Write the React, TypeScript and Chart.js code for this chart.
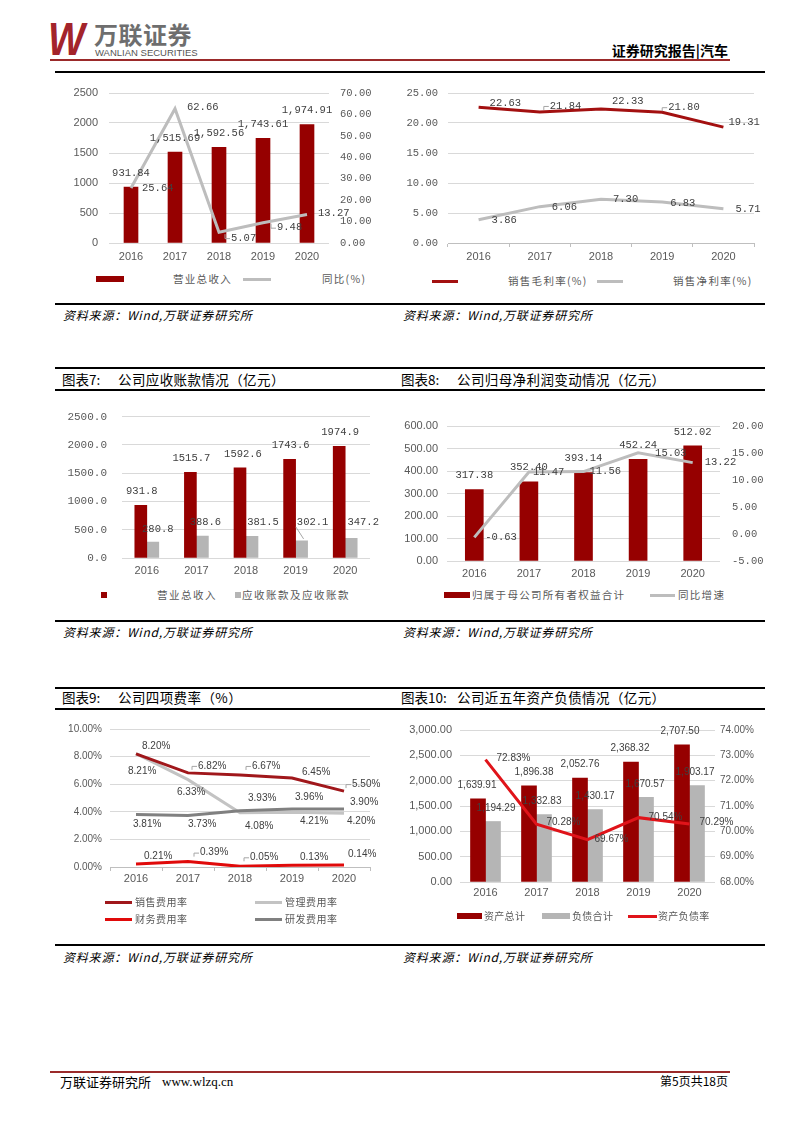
import React, { useEffect, useRef } from "react";
import { Chart, registerables } from "chart.js";

Chart.register(...registerables);

// ---------------- data ----------------
const years = ["2016", "2017", "2018", "2019", "2020"];

// Chart: 营业总收入 / 同比
const c1Names = ["营业总收入", "同比(%)"];
const c1Revenue = [931.84, 1515.69, 1592.56, 1743.61, 1974.91];
const c1YoY = [25.64, 62.66, 5.07, 9.48, 13.27];
const c1LeftTicks = [0, 500, 1000, 1500, 2000, 2500];
const c1RightTicks = [0, 10, 20, 30, 40, 50, 60, 70];

// Chart: 销售毛利率 / 销售净利率
const c2Names = ["销售毛利率(%)", "销售净利率(%)"];
const c2Gross = [22.63, 21.84, 22.33, 21.8, 19.31];
const c2Net = [3.86, 6.06, 7.3, 6.83, 5.71];
const c2Ticks = [0, 5, 10, 15, 20, 25];

// 图表7
const c7Names = ["营业总收入", "应收账款及应收账款"];
const c7Revenue = [931.8, 1515.7, 1592.6, 1743.6, 1974.9];
const c7Receivables = [280.8, 388.6, 381.5, 302.1, 347.2];
const c7Ticks = [0, 500, 1000, 1500, 2000, 2500];

// 图表8
const c8Names = ["归属于母公司所有者权益合计", "同比增速"];
const c8Equity = [317.38, 352.4, 393.14, 452.24, 512.02];
const c8YoY = [-0.63, 11.47, 11.56, 15.03, 13.22];
const c8LeftTicks = [0, 100, 200, 300, 400, 500, 600];
const c8RightTicks = [-5, 0, 5, 10, 15, 20];

// 图表9
const c9Names = ["销售费用率", "管理费用率", "财务费用率", "研发费用率"];
const c9Selling = [8.2, 6.82, 6.67, 6.45, 5.5];
const c9Admin = [8.21, 6.33, 3.93, 3.96, 3.9];
const c9Finance = [0.21, 0.39, 0.05, 0.13, 0.14];
const c9RD = [3.81, 3.73, 4.08, 4.21, 4.2];
const c9Ticks = [0, 2, 4, 6, 8, 10];

// 图表10
const c10Names = ["资产总计", "负债合计", "资产负债率"];
const c10Assets = [1639.91, 1896.38, 2052.76, 2368.32, 2707.5];
const c10Liab = [1194.29, 1332.83, 1430.17, 1670.57, 1903.17];
const c10Ratio = [72.83, 70.28, 69.67, 70.54, 70.29];
const c10LeftTicks = [0, 500, 1000, 1500, 2000, 2500, 3000];
const c10RightTicks = [68, 69, 70, 71, 72, 73, 74];

// ---------------- styles ----------------
const DARK_RED = "#960000";
const GRAY_BAR = "#B5B5B5";
const GRAY_LINE = "#BDBDBD";
const RED2 = "#A31010";
const C9_SELL = "#A0171B";
const C9_ADMIN = "#C3C3C3";
const C9_FIN = "#E00A0A";
const C9_RD = "#808080";
const C10_LINE = "#E0141A";
const TICK_COLOR = "#595959";
const LABEL_COLOR = "#404040";
const SANS = "'Liberation Sans', Arial, sans-serif";
const MONO = "'Liberation Mono', monospace";
const CJK = "'Noto Sans CJK SC', sans-serif";

const f2 = (v: number) => v.toFixed(2);
const f1 = (v: number) => v.toFixed(1);
const f0 = (v: number) => String(Math.round(v));
const fc2 = (v: number) =>
  v.toLocaleString("en-US", { minimumFractionDigits: 2, maximumFractionDigits: 2 });
const fp2 = (v: number) => v.toFixed(2) + "%";

type Off = [number, number][];
interface LabelSpec {
  ds: number;
  fmt: (v: number) => string;
  off: Off;
  align?: "center" | "left";
  leaders?: number[];
  diag?: number[];
}

function makeLabelPlugin(specs: LabelSpec[], font: string) {
  return {
    id: "valueLabels",
    afterDatasetsDraw(chart: any) {
      const ctx = chart.ctx as CanvasRenderingContext2D;
      ctx.save();
      ctx.font = font;
      ctx.textBaseline = "middle";
      for (const s of specs) {
        const meta = chart.getDatasetMeta(s.ds);
        const values = chart.data.datasets[s.ds].data as number[];
        meta.data.forEach((el: any, i: number) => {
          const [dx, dy] = s.off[i] || [0, 0];
          const text = s.fmt(values[i]);
          const x = el.x + dx;
          const y = el.y + dy;
          const left = s.align === "left";
          ctx.textAlign = left ? "left" : "center";
          ctx.fillStyle = LABEL_COLOR;
          ctx.fillText(text, x, y);
          const lx = left ? x : x - ctx.measureText(text).width / 2;
          ctx.strokeStyle = "#A6A6A6";
          ctx.lineWidth = 1;
          if (s.leaders && s.leaders.includes(i)) {
            ctx.beginPath();
            ctx.moveTo(lx - 1, y + 0.5);
            ctx.lineTo(lx - 6, y + 0.5);
            ctx.lineTo(lx - 6, y + (el.y > y ? 4 : -4));
            ctx.stroke();
          }
          if (s.diag && s.diag.includes(i)) {
            ctx.beginPath();
            ctx.moveTo(el.x + 2, el.y - 2);
            ctx.lineTo(lx - 1, y + 5);
            ctx.stroke();
          }
        });
      }
      ctx.restore();
    },
  };
}

function yScale(
  ticks: number[],
  o: { position: "left" | "right"; width: number; pad: number; fmt: (v: number) => string; font: any; grid?: boolean }
) {
  return {
    type: "linear",
    position: o.position,
    min: ticks[0],
    max: ticks[ticks.length - 1],
    afterBuildTicks: (s: any) => {
      s.ticks = ticks.map((v) => ({ value: v }));
    },
    ticks: {
      callback: (v: any) => o.fmt(Number(v)),
      padding: o.pad,
      font: o.font,
      color: TICK_COLOR,
    },
    grid: o.grid
      ? { color: "#D9D9D9", drawTicks: false, lineWidth: 1 }
      : { display: false, drawTicks: false },
    border: { display: false },
    afterFit: (s: any) => {
      s.width = o.width;
    },
  };
}

function xScale(o: { height: number; pad: number; marks: boolean; font: any }) {
  return {
    type: "category",
    offset: true,
    grid: o.marks
      ? { display: true, drawOnChartArea: false, drawTicks: true, tickLength: 4, offset: true, color: "#BFBFBF" }
      : { display: false, drawTicks: false },
    border: { display: o.marks, color: "#BFBFBF" },
    ticks: { padding: o.pad, font: o.font, color: TICK_COLOR, maxRotation: 0, autoSkip: false },
    afterFit: (s: any) => {
      s.height = o.height;
    },
  };
}

function baseOptions(padding: any, scales: any) {
  return {
    responsive: false,
    animation: false,
    devicePixelRatio: 1,
    events: [],
    layout: { padding },
    plugins: { legend: { display: false }, tooltip: { enabled: false } },
    scales,
  };
}

const yearFont = { family: SANS, size: 11 };

// ---------------- chart configs ----------------
function cfg1(): any {
  return {
    type: "bar",
    data: {
      labels: years,
      datasets: [
        { type: "line", label: c1Names[1], data: c1YoY, yAxisID: "y1", borderColor: GRAY_LINE, borderWidth: 3, pointRadius: 0, tension: 0, order: 0 },
        { type: "bar", label: c1Names[0], data: c1Revenue, yAxisID: "y", backgroundColor: DARK_RED, barThickness: 14, order: 1 },
      ],
    },
    options: baseOptions(
      { top: 18, left: 0, right: 0, bottom: 0 },
      {
        x: xScale({ height: 27, pad: 7, marks: false, font: yearFont }),
        y: yScale(c1LeftTicks, { position: "left", width: 54, pad: 11, fmt: f0, font: { family: SANS, size: 11 }, grid: true }),
        y1: yScale(c1RightTicks, { position: "right", width: 66, pad: 11, fmt: f2, font: { family: MONO, size: 10.5 } }),
      }
    ),
    plugins: [
      makeLabelPlugin(
        [
          { ds: 1, fmt: fc2, off: [[0, -14], [0, -14], [0, -14], [0, -14], [0, -14]] },
          { ds: 0, fmt: f2, align: "left", off: [[11, 0], [12, -2], [12, 6], [14, 5], [11, -1]], leaders: [2, 3] },
        ],
        `10.5px ${MONO}`
      ),
    ],
  };
}

function cfg2(): any {
  return {
    type: "line",
    data: {
      labels: years,
      datasets: [
        { label: c2Names[0], data: c2Gross, borderColor: RED2, borderWidth: 3, pointRadius: 0, tension: 0 },
        { label: c2Names[1], data: c2Net, borderColor: GRAY_LINE, borderWidth: 3, pointRadius: 0, tension: 0 },
      ],
    },
    options: baseOptions(
      { top: 18, left: 0, right: 21, bottom: 0 },
      {
        x: xScale({ height: 27, pad: 3, marks: true, font: yearFont }),
        y: yScale(c2Ticks, { position: "left", width: 53, pad: 10, fmt: f2, font: { family: MONO, size: 10.5 }, grid: true }),
      }
    ),
    plugins: [
      makeLabelPlugin(
        [
          { ds: 0, fmt: f2, align: "left", off: [[11, -4], [10, -6], [11, -8], [6, -5], [5, -5]], leaders: [1, 3] },
          { ds: 1, fmt: f2, align: "left", off: [[13, 0], [12, 1], [12, 0], [8, 1], [12, 0]] },
        ],
        `10.5px ${MONO}`
      ),
    ],
  };
}

function cfg7(): any {
  return {
    type: "bar",
    data: {
      labels: years,
      datasets: [
        { label: c7Names[0], data: c7Revenue, backgroundColor: DARK_RED, barThickness: 12 },
        { label: c7Names[1], data: c7Receivables, backgroundColor: GRAY_BAR, barThickness: 12 },
      ],
    },
    options: baseOptions(
      { top: 19, left: 0, right: 25, bottom: 0 },
      {
        x: xScale({ height: 22, pad: 6, marks: false, font: yearFont }),
        y: yScale(c7Ticks, { position: "left", width: 67, pad: 15, fmt: f1, font: { family: MONO, size: 11 }, grid: true }),
      }
    ),
    plugins: [
      makeLabelPlugin(
        [
          { ds: 0, fmt: f1, off: [[1, -14], [1, -14], [3, -14], [1, -14], [1, -14]] },
          { ds: 1, fmt: f1, off: [[5, -13], [3, -14], [11, -14], [11, -19], [12, -16]], diag: [3] },
        ],
        `10.5px ${MONO}`
      ),
    ],
  };
}

function cfg8(): any {
  return {
    type: "bar",
    data: {
      labels: years,
      datasets: [
        { type: "line", label: c8Names[1], data: c8YoY, yAxisID: "y1", borderColor: GRAY_LINE, borderWidth: 3, pointRadius: 0, tension: 0, order: 0 },
        { type: "bar", label: c8Names[0], data: c8Equity, yAxisID: "y", backgroundColor: DARK_RED, barThickness: 18, order: 1 },
      ],
    },
    options: baseOptions(
      { top: 26, left: 0, right: 0, bottom: 0 },
      {
        x: xScale({ height: 24, pad: 6, marks: false, font: yearFont }),
        y: yScale(c8LeftTicks, { position: "left", width: 52, pad: 9, fmt: f2, font: { family: SANS, size: 11 }, grid: true }),
        y1: yScale(c8RightTicks, { position: "right", width: 55, pad: 12, fmt: f2, font: { family: MONO, size: 10.5 } }),
      }
    ),
    plugins: [
      makeLabelPlugin(
        [
          { ds: 1, fmt: f2, off: [[0, -14], [0, -14], [0, -14], [0, -14], [0, -14]] },
          { ds: 0, fmt: f2, align: "left", off: [[11, 0], [4, 0], [6, 0], [17, 0], [12, 0]] },
        ],
        `10.5px ${MONO}`
      ),
    ],
  };
}

function cfg9(): any {
  const line = (label: string, data: number[], color: string, order: number) => ({
    label, data, borderColor: color, borderWidth: 3, pointRadius: 0, tension: 0, order,
  });
  return {
    type: "line",
    data: {
      labels: years,
      datasets: [
        line(c9Names[0], c9Selling, C9_SELL, 0),
        line(c9Names[1], c9Admin, C9_ADMIN, 3),
        line(c9Names[2], c9Finance, C9_FIN, 1),
        line(c9Names[3], c9RD, C9_RD, 2),
      ],
    },
    options: baseOptions(
      { top: 13, left: 0, right: 25, bottom: 0 },
      {
        x: xScale({ height: 23, pad: 1, marks: true, font: yearFont }),
        y: yScale(c9Ticks, { position: "left", width: 55, pad: 8, fmt: fp2, font: { family: SANS, size: 10 }, grid: true }),
      }
    ),
    plugins: [
      makeLabelPlugin(
        [
          { ds: 0, fmt: fp2, align: "left", off: [[6, -8], [10, -7], [12, -9], [10, -6], [8, -7]], leaders: [1, 2, 4] },
          { ds: 1, fmt: fp2, align: "left", off: [[-8, 18], [-11, 13], [8, -15], [3, -15], [6, -11]] },
          { ds: 2, fmt: fp2, align: "left", off: [[8, -8], [12, -9], [10, -9], [8, -8], [4, -11]], leaders: [1, 2] },
          { ds: 3, fmt: fp2, align: "left", off: [[-3, 10], [0, 9], [5, 16], [8, 12], [3, 12]] },
        ],
        `10px ${SANS}`
      ),
    ],
  };
}

function cfg10(): any {
  return {
    type: "bar",
    data: {
      labels: years,
      datasets: [
        { type: "line", label: c10Names[2], data: c10Ratio, yAxisID: "y1", borderColor: C10_LINE, borderWidth: 3, pointRadius: 0, tension: 0, order: 0 },
        { type: "bar", label: c10Names[0], data: c10Assets, yAxisID: "y", backgroundColor: DARK_RED, barThickness: 15, order: 1 },
        { type: "bar", label: c10Names[1], data: c10Liab, yAxisID: "y", backgroundColor: GRAY_BAR, barThickness: 15, order: 1 },
      ],
    },
    options: baseOptions(
      { top: 15, left: 0, right: 0, bottom: 0 },
      {
        x: xScale({ height: 23, pad: 4, marks: false, font: yearFont }),
        y: yScale(c10LeftTicks, { position: "left", width: 65, pad: 8, fmt: fc2, font: { family: SANS, size: 11 }, grid: true }),
        y1: yScale(c10RightTicks, { position: "right", width: 60, pad: 5, fmt: fp2, font: { family: SANS, size: 10 } }),
      }
    ),
    plugins: [
      makeLabelPlugin(
        [
          { ds: 1, fmt: fc2, off: [[-1, -14], [5, -14], [0, -14], [-1, -14], [-2, -14]] },
          { ds: 2, fmt: fc2, off: [[3, -13], [-2, -13], [0, -13], [-1, -13], [-2, -13]] },
          { ds: 0, fmt: fp2, align: "left", off: [[11, -1], [10, -2], [7, 0], [10, 0], [10, -2]] },
        ],
        `10px ${SANS}`
      ),
    ],
  };
}

// ---------------- components ----------------
function ChartBox(props: { left: number; top: number; width: number; height: number; make: () => any }) {
  const ref = useRef<HTMLCanvasElement>(null);
  useEffect(() => {
    const chart = new Chart(ref.current as HTMLCanvasElement, props.make());
    return () => chart.destroy();
  }, []);
  return (
    <div style={{ position: "absolute", left: props.left, top: props.top, width: props.width, height: props.height }}>
      <canvas ref={ref} width={props.width} height={props.height} style={{ display: "block" }} />
    </div>
  );
}

function Rule(p: { x: number; y: number; w: number; h: number; c?: string }) {
  return <div style={{ position: "absolute", left: p.x, top: p.y, width: p.w, height: p.h, background: p.c || "#000" }} />;
}

function Txt(p: {
  x: number; y: number; text: string; size: number; font?: string; color?: string; weight?: any;
  italic?: boolean; spacing?: number; right?: boolean;
}) {
  const style: any = {
    position: "absolute",
    top: p.y - p.size / 2,
    height: p.size,
    lineHeight: `${p.size}px`,
    fontSize: p.size,
    fontFamily: p.font || CJK,
    color: p.color || "#000",
    fontWeight: p.weight || 400,
    fontStyle: p.italic ? "italic" : "normal",
    letterSpacing: p.spacing || 0,
    whiteSpace: "nowrap",
  };
  if (p.right) style.right = 793 - p.x;
  else style.left = p.x;
  return <div style={style}>{p.text}</div>;
}

type Swatch = "rect" | "line" | "square";
function LegendItem(p: { kind: Swatch; color: string; x0: number; x1: number; y: number; tx: number; text: string; size?: number; spacing?: number }) {
  let sw;
  if (p.kind === "rect") sw = <Rule x={p.x0} y={p.y - 3} w={p.x1 - p.x0} h={6} c={p.color} />;
  else if (p.kind === "line") sw = <Rule x={p.x0} y={p.y - 1.5} w={p.x1 - p.x0} h={3} c={p.color} />;
  else sw = <Rule x={p.x0} y={p.y - 3} w={6} h={6} c={p.color} />;
  return (
    <>
      {sw}
      <Txt x={p.tx} y={p.y} text={p.text} size={p.size || 10.5} color="#595959" spacing={p.spacing ?? 1.3} />
    </>
  );
}

const PANEL_R = 765;
const SRC = "资料来源：Wind,万联证券研究所";

export default function App() {
  return (
    <div
      style={{
        position: "absolute", left: 0, top: 0, width: 793, height: 1122,
        background: "#fff", overflow: "hidden", fontFamily: CJK,
      }}
    >
      {/* header */}
      <div
        style={{
          position: "absolute", left: 48, top: 14, fontFamily: SANS, fontWeight: 900, fontStyle: "italic",
          fontSize: 46, color: "#A3242B", lineHeight: "50px", transform: "scaleX(0.85)", transformOrigin: "left top",
        }}
      >
        W
      </div>
      <Txt x={94} y={34} text="万联证券" size={24} color="#6E6E6E" weight={700} spacing={0.5} />
      <Txt x={95} y={53} text="WANLIAN SECURITIES" size={9.5} font={SANS} color="#555" spacing={0} />
      <Txt x={728} y={50} text="证券研究报告|汽车" size={14} weight={700} right />
      <Rule x={50} y={59} w={680} h={2} c="#9B2A2A" />

      {/* row 1 */}
      <Rule x={55} y={71} w={PANEL_R - 55} h={2} />
      <Rule x={55} y={303} w={PANEL_R - 55} h={2} />
      <ChartBox left={55} top={75} width={340} height={195} make={cfg1} />
      <ChartBox left={395} top={75} width={380} height={195} make={cfg2} />
      <LegendItem kind="rect" color={DARK_RED} x0={96} x1={124} y={279} tx={173} text={c1Names[0]} />
      <LegendItem kind="line" color={GRAY_LINE} x0={243} x1={271} y={279} tx={322} text={c1Names[1]} />
      <LegendItem kind="line" color={RED2} x0={432} x1={458} y={281} tx={508} text={c2Names[0]} />
      <LegendItem kind="line" color={GRAY_LINE} x0={597} x1={623} y={281} tx={673} text={c2Names[1]} />
      <Txt x={63} y={315} text={SRC} size={12} italic spacing={0.8} />
      <Txt x={403} y={315} text={SRC} size={12} italic spacing={0.8} />

      {/* row 2 */}
      <Rule x={55} y={367} w={PANEL_R - 55} h={2} />
      <Txt x={62} y={380} text="图表7:" size={13.5} />
      <Txt x={118} y={380} text="公司应收账款情况（亿元）" size={13.5} spacing={0.4} />
      <Txt x={401} y={380} text="图表8:" size={13.5} />
      <Txt x={457} y={380} text="公司归母净利润变动情况（亿元）" size={13.5} spacing={0.4} />
      <Rule x={55} y={389} w={PANEL_R - 55} h={2} />
      <ChartBox left={55} top={395} width={340} height={185} make={cfg7} />
      <ChartBox left={395} top={400} width={380} height={185} make={cfg8} />
      <LegendItem kind="square" color={DARK_RED} x0={101} x1={107} y={595} tx={157} text={c7Names[0]} spacing={1.5} />
      <LegendItem kind="square" color={GRAY_BAR} x0={235} x1={241} y={595} tx={242} text={c7Names[1]} spacing={1.5} />
      <LegendItem kind="rect" color={DARK_RED} x0={444} x1={470} y={595} tx={472} text={c8Names[0]} />
      <LegendItem kind="line" color={GRAY_LINE} x0={650} x1={675} y={595} tx={678} text={c8Names[1]} />
      <Rule x={55} y={620} w={PANEL_R - 55} h={2} />
      <Txt x={63} y={632} text={SRC} size={12} italic spacing={0.8} />
      <Txt x={403} y={632} text={SRC} size={12} italic spacing={0.8} />

      {/* row 3 */}
      <Rule x={55} y={687} w={PANEL_R - 55} h={2} />
      <Txt x={62} y={698} text="图表9:" size={13.5} />
      <Txt x={118} y={698} text="公司四项费率（%）" size={13.5} spacing={0.4} />
      <Txt x={401} y={698} text="图表10:" size={13.5} />
      <Txt x={457} y={698} text="公司近五年资产负债情况（亿元）" size={13.5} spacing={0.4} />
      <Rule x={55} y={708} w={PANEL_R - 55} h={2} />
      <ChartBox left={55} top={715} width={340} height={175} make={cfg9} />
      <ChartBox left={395} top={715} width={380} height={190} make={cfg10} />
      <LegendItem kind="line" color={C9_SELL} x0={105} x1={132} y={902} tx={135} text={c9Names[0]} size={10} spacing={0.5} />
      <LegendItem kind="line" color={C9_ADMIN} x0={255} x1={282} y={902} tx={285} text={c9Names[1]} size={10} spacing={0.5} />
      <LegendItem kind="line" color={C9_FIN} x0={105} x1={132} y={919} tx={135} text={c9Names[2]} size={10} spacing={0.5} />
      <LegendItem kind="line" color={C9_RD} x0={255} x1={282} y={919} tx={285} text={c9Names[3]} size={10} spacing={0.5} />
      <LegendItem kind="rect" color={DARK_RED} x0={457} x1={482} y={916} tx={484} text={c10Names[0]} size={10} spacing={0.3} />
      <LegendItem kind="rect" color={GRAY_BAR} x0={542} x1={570} y={916} tx={572} text={c10Names[1]} size={10} spacing={0.3} />
      <LegendItem kind="line" color={C10_LINE} x0={628} x1={657} y={916} tx={658} text={c10Names[2]} size={10} spacing={0.3} />
      <Rule x={55} y={944} w={PANEL_R - 55} h={2} />
      <Txt x={63} y={957} text={SRC} size={12} italic spacing={0.8} />
      <Txt x={403} y={957} text={SRC} size={12} italic spacing={0.8} />

      {/* footer */}
      <Rule x={50} y={1071} w={680} h={2} c="#9B2A2A" />
      <Txt x={60} y={1081} text="万联证券研究所" size={13} />
      <Txt x={162} y={1081} text="www.wlzq.cn" size={13} font="'Liberation Serif', serif" />
      <Txt x={728} y={1081} text="第5页共18页" size={12} right />
    </div>
  );
}
